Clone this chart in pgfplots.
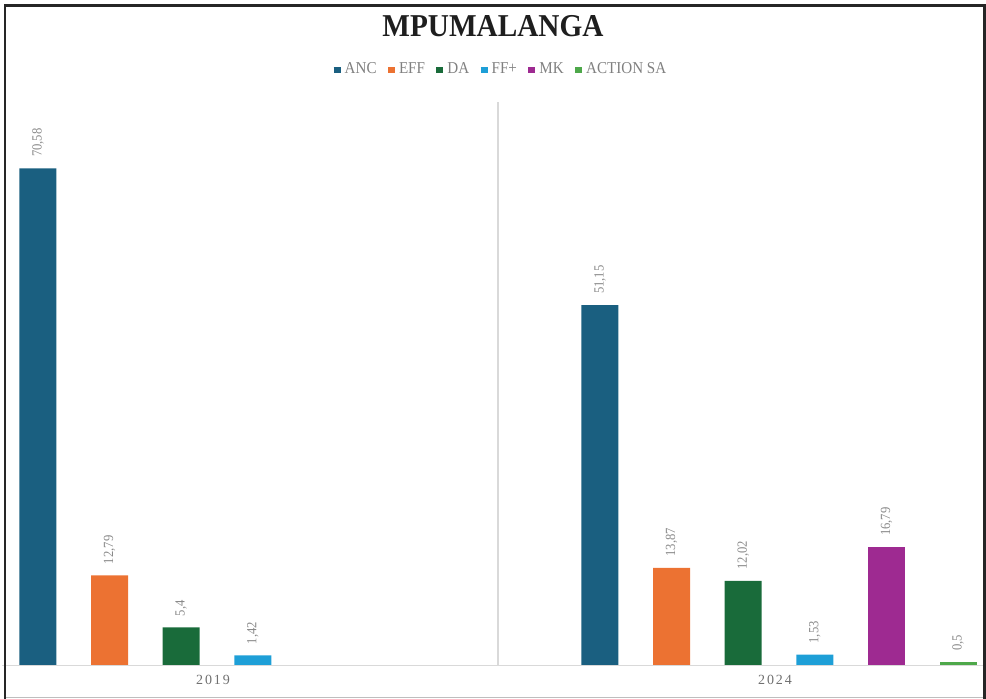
\documentclass[border=0pt]{standalone}
\usepackage{pgfplots}
\usepackage{pgfplotstable}
\pgfplotsset{compat=1.18}
\usepackage{fontspec}
\setmainfont{Liberation Serif}
\newfontfamily\catfont[LetterSpace=14]{Liberation Serif}
\definecolor{anc}{RGB}{26,95,128}
\definecolor{eff}{RGB}{236,114,50}
\definecolor{da}{RGB}{25,107,58}
\definecolor{ffp}{RGB}{30,159,215}
\definecolor{mk}{RGB}{158,42,145}
\definecolor{asa}{RGB}{78,168,74}
\definecolor{framec}{RGB}{38,38,38}
\definecolor{lgray}{RGB}{217,217,217}
\definecolor{txtgray}{RGB}{128,128,128}
\definecolor{valgray}{RGB}{137,137,137}
\definecolor{catgray}{RGB}{112,112,112}
\definecolor{titlec}{RGB}{30,30,30}

% x = category index (2019 -> 0, 2024 -> 1) plus the bar's offset in its group
\pgfplotstableread{
x y label
-0.3186 70.58 70,58
0.6814 51.15 51,15
}\ancdata
\pgfplotstableread{
x y label
-0.1912 12.79 12,79
0.8088 13.87 13,87
}\effdata
\pgfplotstableread{
x y label
-0.0637 5.40 5,4
0.9363 12.02 12,02
}\dadata
\pgfplotstableread{
x y label
0.0637 1.42 1,42
1.0637 1.53 1,53
}\ffdata
\pgfplotstableread{
x y label
1.1912 16.79 16,79
}\mkdata
\pgfplotstableread{
x y label
1.3186 0.50 0,5
}\asadata

\newcommand{\legitem}[2]{\textcolor{#1}{\rule{3.5pt}{3.3pt}}\hspace{2pt}\scalebox{0.91}[1]{#2}}

\pgfplotsset{
  mybar/.style={ybar, bar width=0.0658, bar shift=0pt, draw=none, forget plot},
}

\begin{document}
\begin{tikzpicture}
\path[use as bounding box] (0pt,-16.75pt) rectangle (493pt,332.75pt);
\begin{axis}[
  at={(0pt,0pt)}, anchor=south west,
  scale only axis, width=493pt, height=281.75pt,
  xmin=-0.3861, xmax=1.3683, ymin=0, ymax=80,
  axis line style={draw=none},
  ytick=\empty, xtick={0,1}, xticklabels={2019,2024},
  major tick length=0pt,
  xticklabel style={font=\catfont\fontsize{7}{8}\selectfont, text=catgray, inner sep=0pt, anchor=north, yshift=-4.75pt, xshift=-2pt},
  clip=false,
  every axis title shift=0pt,
  title={\scalebox{0.92}[1]{MPUMALANGA}},
  title style={at={(0.5,1.134)}, anchor=center, inner sep=0pt, font=\fontsize{15.9}{18}\selectfont\bfseries, text=titlec},
  legend columns=6,
  legend style={at={(0.5071,1.0612)}, anchor=center, draw=none, fill=none,
    font=\fontsize{8.3}{10}\selectfont, text=txtgray, inner sep=0pt,
    nodes={inner sep=0pt, text depth=0pt, text height=5.6pt},
    cells={anchor=base},
    column sep=0pt,
    /tikz/every odd column/.append style={column sep=0pt},
    /tikz/every even column/.append style={column sep=5.7pt}},
  point meta=explicit symbolic,
  nodes near coords={\scalebox{0.9}[1]{\pgfplotspointmeta}},
  every node near coord/.append style={yshift=5.5pt, rotate=90, anchor=west, inner sep=0pt, font=\fontsize{7}{8}\selectfont, text=valgray},
]
\addplot[mybar, fill=anc] table[x=x,y=y,meta=label]{\ancdata};
\addplot[mybar, fill=eff] table[x=x,y=y,meta=label]{\effdata};
\addplot[mybar, fill=da] table[x=x,y=y,meta=label]{\dadata};
\addplot[mybar, fill=ffp] table[x=x,y=y,meta=label]{\ffdata};
\addplot[mybar, fill=mk] table[x=x,y=y,meta=label]{\mkdata};
\addplot[mybar, fill=asa] table[x=x,y=y,meta=label]{\asadata};
\addlegendimage{empty legend}
\addlegendentry{\legitem{anc}{ANC}}
\addlegendimage{empty legend}
\addlegendentry{\legitem{eff}{EFF}}
\addlegendimage{empty legend}
\addlegendentry{\legitem{da}{DA}}
\addlegendimage{empty legend}
\addlegendentry{\legitem{ffp}{FF+}}
\addlegendimage{empty legend}
\addlegendentry{\legitem{mk}{MK}}
\addlegendimage{empty legend}
\addlegendentry{\legitem{asa}{ACTION SA}}
\draw[lgray, line width=0.6pt] (axis cs:0.5,0) -- (axis cs:0.5,80);
\end{axis}
\begin{scope}[x=0.5pt,y=-0.5pt,yshift=332.75pt]
\draw[lgray, line width=0.75pt] (2,665.5) -- (983,665.5);
\draw[lgray!70!gray, line width=0.6pt] (5,697.3) -- (984.3,697.3);
\draw[framec, line width=1.25pt] (5,699) -- (5,5.3) -- (984.3,5.3) -- (984.3,699);
\end{scope}
\end{tikzpicture}
\end{document}
